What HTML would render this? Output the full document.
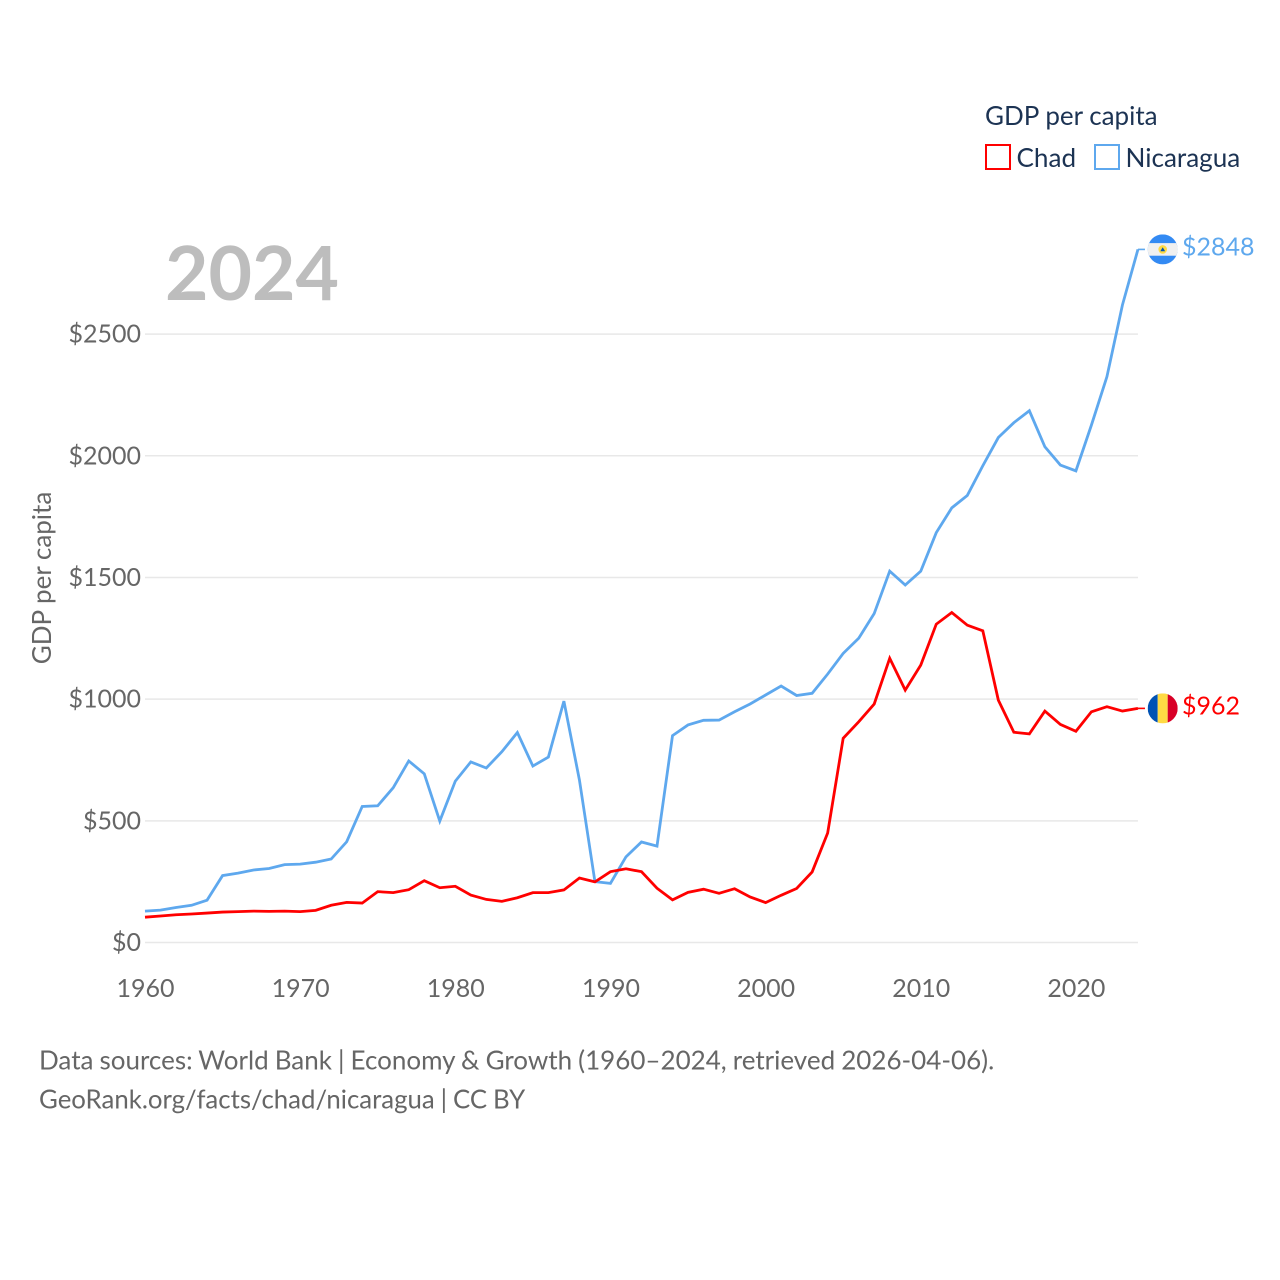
<!DOCTYPE html>
<html lang="en">
<head>
<meta charset="utf-8">
<title>GDP per capita: Chad and Nicaragua</title>
<style>
  html, body { margin: 0; padding: 0; background: #fff; }
  svg { display: block; }
  text { font-family: Lato, Carlito, "Liberation Sans", sans-serif; }
</style>
</head>
<body>
<svg id="chart" xmlns="http://www.w3.org/2000/svg" width="1280" height="1280" viewBox="0 0 1280 1280">
  <rect x="0" y="0" width="1280" height="1280" fill="#ffffff"/>
  <g id="grid"></g>
  <g id="y-ticks"></g>
  <g id="x-ticks"></g>
  <text x="165" y="300" font-size="75" font-weight="700" fill="#bdbdbd">2024</text>
  <text transform="translate(51 578) rotate(-90)" text-anchor="middle" font-size="26" fill="#666666">GDP per capita</text>
  <g id="series"></g>
  <g>
    <text x="985" y="125" font-size="26" fill="#1c3353">GDP per capita</text>
    <g>
      <rect x="986" y="145" width="24" height="24" fill="#ffffff" stroke="#ff0000" stroke-width="2"/>
      <text x="1016.5" y="167" font-size="26.1" fill="#1c3353">Chad</text>
    </g>
    <g>
      <rect x="1095" y="145" width="24" height="24" fill="#ffffff" stroke="#5ea8ee" stroke-width="2"/>
      <text x="1125.5" y="167" font-size="26.1" fill="#1c3353">Nicaragua</text>
    </g>
  </g>
  <text x="39" y="1069.5" font-size="26" word-spacing="-0.6" fill="#666666">Data sources: World Bank | Economy &amp; Growth (1960–2024, retrieved 2026-04-06).</text>
  <text x="39" y="1108.5" font-size="25.8" word-spacing="-0.7" fill="#666666">GeoRank.org/facts/chad/nicaragua | CC BY</text>
</svg>
<script>
const years = [1960,1961,1962,1963,1964,1965,1966,1967,1968,1969,1970,1971,1972,1973,1974,1975,1976,1977,1978,1979,1980,1981,1982,1983,1984,1985,1986,1987,1988,1989,1990,1991,1992,1993,1994,1995,1996,1997,1998,1999,2000,2001,2002,2003,2004,2005,2006,2007,2008,2009,2010,2011,2012,2013,2014,2015,2016,2017,2018,2019,2020,2021,2022,2023,2024];
const chadValues = [104,109,114,117,121,125,127,129,128,129,127,132,153,165,162,209,205,217,254,225,231,195,177,169,184,205,205,216,265,249,291,303,291,223,175,206,219,202,221,187,164,194,222,290,450,839,907,980,1168,1037,1140,1308,1356,1304,1281,996,864,857,951,896,868,948,969,951,962];
const nicaraguaValues = [129,133,144,153,174,275,285,298,304,320,322,330,343,414,559,562,636,746,693,499,663,742,717,784,863,725,762,992,668,250,243,352,413,396,850,894,913,914,948,980,1017,1054,1015,1024,1103,1188,1250,1352,1526,1469,1526,1684,1786,1837,1959,2075,2136,2185,2037,1962,1938,2126,2325,2620,2848];
const yTickValues = [0,500,1000,1500,2000,2500];
const xTickValues = [1960,1970,1980,1990,2000,2010,2020];

const SVG_NS = 'http://www.w3.org/2000/svg';
const xAxis = year => 145 + (year - 1960) * 15.515;
const yAxis = value => 942.5 - value * 0.24336;

function make(tag, attrs, parent, content) {
  const el = document.createElementNS(SVG_NS, tag);
  Object.keys(attrs).forEach(k => el.setAttribute(k, attrs[k]));
  if (content !== undefined) el.textContent = content;
  parent.appendChild(el);
  return el;
}

const gridGroup = document.getElementById('grid');
const yTickGroup = document.getElementById('y-ticks');
const xTickGroup = document.getElementById('x-ticks');
const seriesGroup = document.getElementById('series');

yTickValues.forEach(v => {
  const line = make('line', {x1: xAxis(1960), x2: xAxis(2024), y1: yAxis(v), y2: yAxis(v), stroke: '#e8e8e8', 'stroke-width': 1.5}, gridGroup);
  
  
  const label = make('text', {x: 141, y: yAxis(v) + 8.5, 'text-anchor': 'end', 'font-size': 25, fill: '#666666'}, yTickGroup, '$' + v);
  
  
});

xTickValues.forEach(y => {
  const label = make('text', {x: xAxis(y) + 0.5, y: 997, 'text-anchor': 'middle', 'font-size': 25, fill: '#666666'}, xTickGroup, String(y));
  
  
});

function drawSeries(values, color, seriesName) {
  const last = values[values.length - 1];
  const lastX = xAxis(years[years.length - 1]);
  const pts = values.map((v, i) => xAxis(years[i]).toFixed(2) + ',' + yAxis(v).toFixed(2));
  const line = make('polyline', {points: pts.join(' '), fill: 'none', stroke: color, 'stroke-width': 2.8, 'stroke-linejoin': 'miter'}, seriesGroup);
  
  
  const stub = make('line', {x1: lastX, x2: lastX + 7, y1: yAxis(last), y2: yAxis(last), stroke: color, 'stroke-width': 1.6}, seriesGroup);
  
  
}
drawSeries(nicaraguaValues, '#5ea8ee', 'nicaragua-line');
drawSeries(chadValues, '#ff0000', 'chad-line');

function drawEndLabel(values, color, labelName) {
  const last = values[values.length - 1];
  const label = make('text', {x: 1182, y: yAxis(last) + 6, 'font-size': 25, fill: color}, seriesGroup, '$' + last);
  
  
}
drawEndLabel(nicaraguaValues, '#5ea8ee', 'nicaragua-end-value');
drawEndLabel(chadValues, '#ff0000', 'chad-end-value');

// Nicaragua flag, tracks the last value
(function () {
  const cx = 1162.7, cy = yAxis(nicaraguaValues[nicaraguaValues.length - 1]);
  const clip = make('clipPath', {id: 'nic-clip'}, seriesGroup);
  make('circle', {cx: cx, cy: cy, r: 15}, clip);
  const flag = make('g', {'clip-path': 'url(#nic-clip)'}, seriesGroup);
  
  
  make('rect', {x: cx - 15, y: cy - 15, width: 30, height: 30, fill: '#338af3'}, flag);
  make('rect', {x: cx - 15, y: cy - 6.3, width: 30, height: 12.6, fill: '#f0f0f0'}, flag);
  make('circle', {cx: cx, cy: cy, r: 4.3, fill: '#ffda44'}, flag);
  make('path', {d: 'M' + (cx - 2.4) + ' ' + (cy + 1.8) + 'L' + cx + ' ' + (cy - 2.2) + 'L' + (cx + 2.4) + ' ' + (cy + 1.8) + 'Z', fill: '#0052b4'}, flag);
})();

// Chad flag, tracks the last value
(function () {
  const cx = 1162.7, cy = yAxis(chadValues[chadValues.length - 1]);
  const clip = make('clipPath', {id: 'chad-clip'}, seriesGroup);
  make('circle', {cx: cx, cy: cy, r: 15}, clip);
  const flag = make('g', {'clip-path': 'url(#chad-clip)'}, seriesGroup);
  
  
  make('rect', {x: cx - 15, y: cy - 15, width: 10, height: 30, fill: '#0052b4'}, flag);
  make('rect', {x: cx - 5, y: cy - 15, width: 10, height: 30, fill: '#ffda44'}, flag);
  make('rect', {x: cx + 5, y: cy - 15, width: 10, height: 30, fill: '#d80027'}, flag);
})();
</script>
</body>
</html>
